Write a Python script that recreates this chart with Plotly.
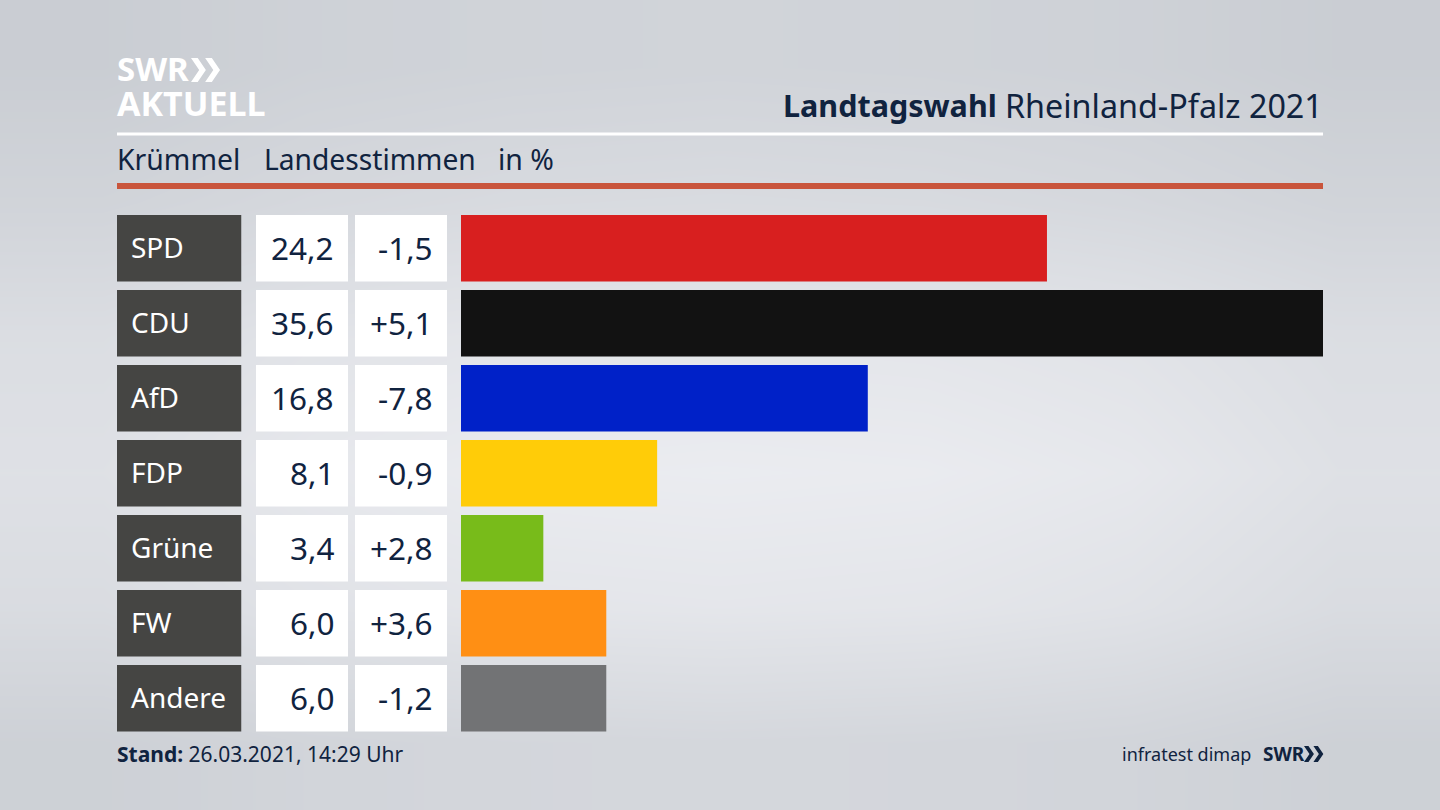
import plotly.graph_objects as go

parties = ["SPD", "CDU", "AfD", "FDP", "Grüne", "FW", "Andere"]
shares = [24.2, 35.6, 16.8, 8.1, 3.4, 6.0, 6.0]
changes = [-1.5, 5.1, -7.8, -0.9, 2.8, 3.6, -1.2]
bar_colors = ["#d81f1f", "#121212", "#0021c8", "#ffcc08", "#78bb1a", "#ff8f14", "#727375"]

# background brightness, coarse grid (top to bottom)
bg_levels = [
    [198, 203, 205, 206, 205, 203, 198],
    [206, 211, 214, 215, 214, 211, 206],
    [218, 225, 228, 229, 228, 225, 218],
    [222, 231, 235, 236, 235, 231, 222],
    [216, 224, 228, 229, 228, 224, 216],
    [202, 207, 209, 210, 209, 207, 202],
]

W = 1440
H = 810
NAVY = "#10233f"
FONT = "Noto Sans"


def px(x):
    return x / W


def py(y):
    return 1 - y / H


def fmt(v):
    return f"{v:.1f}".replace(".", ",")


def fmt_change(v):
    return f"{v:+.1f}".replace(".", ",")


def add_text(fig, x, y, text, size, color=NAVY, anchor="left"):
    fig.add_annotation(x=px(x), y=py(y), xref="paper", yref="paper", text=text,
                       showarrow=False, xanchor=anchor, yanchor="middle",
                       borderpad=0, borderwidth=0,
                       font=dict(family=FONT, size=size, color=color))


def add_chevrons(fig, x, y, h, color):
    # two arrow heads side by side, used by both logos
    w = h * 0.62
    for off in (0, w * 0.95):
        x0 = x + off
        path = (f"M {px(x0)} {py(y)} L {px(x0 + w * 0.45)} {py(y)} "
                f"L {px(x0 + w)} {py(y + h / 2)} L {px(x0 + w * 0.45)} {py(y + h)} "
                f"L {px(x0)} {py(y + h)} L {px(x0 + w * 0.55)} {py(y + h / 2)} Z")
        fig.add_shape(type="path", path=path, xref="paper", yref="paper",
                      fillcolor=color, line_width=0)


fig = go.Figure()

# background first so it ends up below everything else
fig.add_trace(go.Heatmap(z=bg_levels, zmin=190, zmax=240, zsmooth="best", showscale=False,
                         colorscale=[[0, "rgb(195,199,205)"], [1, "rgb(238,239,243)"]],
                         hoverinfo="skip", xaxis="x", yaxis="y"))

fig.add_trace(go.Bar(y=parties, x=[1] * 7, orientation="h", marker_color="#454543",
                     marker_line_width=0, xaxis="x2", yaxis="y2", hoverinfo="skip"))
fig.add_trace(go.Bar(y=parties, x=[1] * 7, orientation="h", marker_color="#ffffff",
                     marker_line_width=0, xaxis="x3", yaxis="y2", hoverinfo="skip"))
fig.add_trace(go.Bar(y=parties, x=[1] * 7, orientation="h", marker_color="#ffffff",
                     marker_line_width=0, xaxis="x4", yaxis="y2", hoverinfo="skip"))
fig.add_trace(go.Bar(y=parties, x=shares, orientation="h", marker_color=bar_colors,
                     marker_line_width=0, xaxis="x5", yaxis="y2"))

hidden = dict(visible=False, fixedrange=True)
fig.update_layout(
    width=W, height=H, margin=dict(l=0, r=0, t=0, b=0), showlegend=False,
    paper_bgcolor="#dcdee3", plot_bgcolor="rgba(0,0,0,0)",
    bargap=8.5 / 75,
    xaxis=dict(domain=[0, 1], range=[-0.5, 6.5], **hidden),
    yaxis=dict(domain=[0, 1], range=[5.5, -0.5], **hidden),
    xaxis2=dict(domain=[px(117), px(241.5)], range=[0, 1], anchor="y2", **hidden),
    xaxis3=dict(domain=[px(256), px(348)], range=[0, 1], anchor="y2", **hidden),
    xaxis4=dict(domain=[px(355), px(447)], range=[0, 1], anchor="y2", **hidden),
    xaxis5=dict(domain=[px(461), px(1323)], range=[0, 35.6], anchor="y2", **hidden),
    yaxis2=dict(domain=[py(735.75), py(210.75)], autorange="reversed", anchor="x2",
                categoryorder="array", categoryarray=parties, **hidden),
)

# rules under the header
fig.add_shape(type="rect", xref="paper", yref="paper", x0=px(117), x1=px(1323),
              y0=py(135.5), y1=py(132.5), fillcolor="#ffffff", line_width=0)
fig.add_shape(type="rect", xref="paper", yref="paper", x0=px(117), x1=px(1323),
              y0=py(189), y1=py(183), fillcolor="#c9553c", line_width=0)

# row texts, tied to the category axis
for party, share, change in zip(parties, shares, changes):
    for x, txt, anchor, color, size in [
        (131, party, "left", "#ffffff", 28),
        (333.5, fmt(share), "right", NAVY, 31.5),
        (432.5, fmt_change(change), "right", NAVY, 31.5),
    ]:
        fig.add_annotation(x=px(x), y=party, xref="paper", yref="y2", text=txt, showarrow=False,
                           xanchor=anchor, yanchor="middle", borderpad=0, borderwidth=0, yshift=1,
                           font=dict(family=FONT, size=size, color=color))

# header
add_text(fig, 997, 105.5, "<b>Landtagswahl</b>", 30.5, anchor="right")
add_text(fig, 1323, 105.5, "Rheinland-Pfalz 2021", 32.3, anchor="right")
add_text(fig, 117, 159.5, "Krümmel", 28.4)
add_text(fig, 264, 159.5, "Landesstimmen", 28.2)
add_text(fig, 498, 159.5, "in %", 28.4)

# logo top left
add_text(fig, 117, 69, "<b>SWR</b>", 33, color="#ffffff")
add_chevrons(fig, 191, 58, 24, "#ffffff")
add_text(fig, 117, 103, "<b>AKTUELL</b>", 34, color="#ffffff")

# footer
add_text(fig, 117, 754, "<b>Stand:</b> 26.03.2021, 14:29 Uhr", 21)
add_text(fig, 1251, 753.5, "infratest dimap", 18, anchor="right")
add_text(fig, 1263, 753.5, "<b>SWR</b>", 19)
add_chevrons(fig, 1304, 746, 16, NAVY)

fig.write_html("out.html", config={"displayModeBar": False},
               post_script="document.body.style.margin='0';")
